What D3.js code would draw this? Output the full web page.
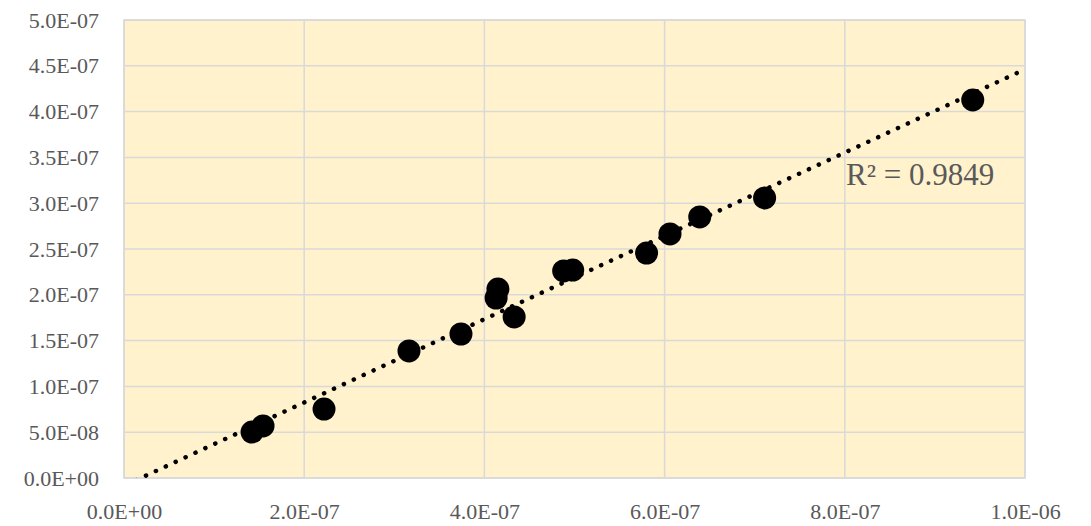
<!DOCTYPE html>
<html>
<head>
<meta charset="utf-8">
<script src="https://cdn.jsdelivr.net/npm/d3@7"></script>
<style>
  html, body { margin: 0; padding: 0; background: #ffffff; }
  svg { display: block; }
  .tick text { font-family: "Liberation Serif", "DejaVu Serif", serif; fill: #595959; }
</style>
</head>
<body>
<svg id="chart" width="1091" height="526"></svg>
<script>
// Measured samples (x, y)
const xValues = [1.421e-7, 1.543e-7, 2.22e-7, 3.163e-7, 3.74e-7, 4.13e-7, 4.15e-7, 4.33e-7,
                 4.88e-7, 4.98e-7, 5.80e-7, 6.06e-7, 6.39e-7, 7.11e-7, 9.42e-7];
const yValues = [5.02e-8, 5.68e-8, 7.53e-8, 1.387e-7, 1.572e-7, 1.965e-7, 2.063e-7, 1.758e-7,
                 2.26e-7, 2.27e-7, 2.456e-7, 2.664e-7, 2.85e-7, 3.057e-7, 4.127e-7];

const xTicks = [0, 2e-7, 4e-7, 6e-7, 8e-7, 1e-6];
const xTickLabels = ["0.0E+00", "2.0E-07", "4.0E-07", "6.0E-07", "8.0E-07", "1.0E-06"];
const yTicks = [0, 5e-8, 1e-7, 1.5e-7, 2e-7, 2.5e-7, 3e-7, 3.5e-7, 4e-7, 4.5e-7, 5e-7];
const yTickLabels = ["0.0E+00", "5.0E-08", "1.0E-07", "1.5E-07", "2.0E-07", "2.5E-07",
                     "3.0E-07", "3.5E-07", "4.0E-07", "4.5E-07", "5.0E-07"];
const r2Label = "R\u00B2 = 0.9849";

const svg = d3.select("#chart");
const plot = { left: 124, top: 20, right: 1025, bottom: 478 };

const x = d3.scaleLinear().domain([0, 1e-6]).range([plot.left, plot.right]);
const y = d3.scaleLinear().domain([0, 5e-7]).range([plot.bottom, plot.top]);

// Plot area background
svg.append("rect")
  .attr("x", plot.left).attr("y", plot.top)
  .attr("width", plot.right - plot.left).attr("height", plot.bottom - plot.top)
  .attr("fill", "#FFF2CC");

// Gridlines
svg.append("g").selectAll("line").data(xTicks).join("line")
  .attr("x1", d => x(d)).attr("x2", d => x(d))
  .attr("y1", plot.top).attr("y2", plot.bottom)
  .attr("stroke", "#D9D9D9").attr("stroke-width", 1.5);
svg.append("g").selectAll("line").data(yTicks).join("line")
  .attr("x1", plot.left).attr("x2", plot.right)
  .attr("y1", d => y(d)).attr("y2", d => y(d))
  .attr("stroke", "#D9D9D9").attr("stroke-width", 1.5);

// Plot area border
svg.append("rect")
  .attr("x", plot.left).attr("y", plot.top)
  .attr("width", plot.right - plot.left).attr("height", plot.bottom - plot.top)
  .attr("fill", "none").attr("stroke", "#D9D9D9").attr("stroke-width", 1.5);

// Axes (labels only)
const xAxis = d3.axisBottom(x).tickValues(xTicks)
  .tickFormat((d, i) => xTickLabels[i]).tickSize(0).tickPadding(25);
svg.append("g").attr("transform", `translate(0,${plot.bottom})`).call(xAxis)
  .call(g => g.select(".domain").remove())
  .selectAll("text").attr("font-size", 22);

const yAxis = d3.axisLeft(y).tickValues(yTicks)
  .tickFormat((d, i) => yTickLabels[i]).tickSize(0).tickPadding(25);
svg.append("g").attr("transform", `translate(${plot.left},0)`).call(yAxis)
  .call(g => g.select(".domain").remove())
  .selectAll("text").attr("font-size", 22);

// Linear least-squares trendline
const n = xValues.length;
const mx = d3.mean(xValues), my = d3.mean(yValues);
let sxy = 0, sxx = 0;
for (let i = 0; i < n; i++) {
  sxy += (xValues[i] - mx) * (yValues[i] - my);
  sxx += (xValues[i] - mx) ** 2;
}
const slope = sxy / sxx;
const intercept = my - slope * mx;

svg.append("clipPath").attr("id", "plot-clip")
  .append("rect")
  .attr("x", plot.left).attr("y", plot.top)
  .attr("width", plot.right - plot.left).attr("height", plot.bottom - plot.top);

const trend = [0, 1e-6].map(v => [v, slope * v + intercept]);
svg.append("path")
  .datum(trend)
  .attr("clip-path", "url(#plot-clip)")
  .attr("d", d3.line().x(d => x(d[0])).y(d => y(d[1])))
  .attr("fill", "none")
  .attr("stroke", "#000")
  .attr("stroke-width", 4.5)
  .attr("stroke-linecap", "round")
  .attr("stroke-dasharray", "0.1 10.8")
  .attr("stroke-dashoffset", -2.4);

// Data points
svg.append("g").selectAll("circle").data(d3.range(n)).join("circle")
  .attr("cx", i => x(xValues[i]))
  .attr("cy", i => y(yValues[i]))
  .attr("r", 11.5)
  .attr("fill", "#000");

// R² annotation
svg.append("text")
  .attr("x", 846).attr("y", 185)
  .attr("font-family", "Liberation Serif, DejaVu Serif, serif")
  .attr("font-size", 31)
  .attr("fill", "#595959")
  .text(r2Label);
</script>
</body>
</html>
